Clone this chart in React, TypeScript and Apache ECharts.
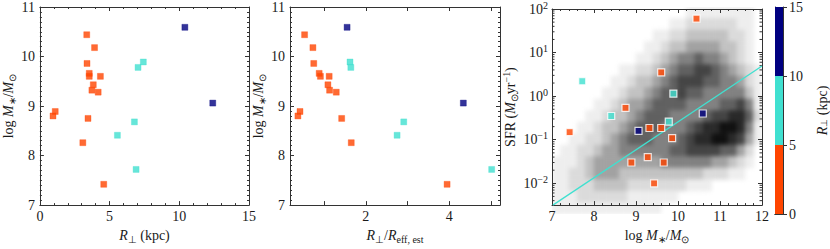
import React, { useEffect, useRef } from 'react';
import * as echarts from 'echarts';

// ---------- data ----------
const rPerpKpc = [3.36, 3.92, 3.38, 3.54, 3.54, 4.34, 3.83, 3.73, 4.18, 1.1, 0.94, 3.45, 3.08, 4.58, 7.42, 7.04, 6.78, 5.56, 6.9, 10.4, 12.4];
const rPerpOverReff = [0.53, 0.73, 0.75, 0.88, 0.91, 1.12, 1.09, 1.13, 1.29, 0.42, 0.37, 1.42, 1.65, 3.95, 1.62, 1.64, 2.91, 2.75, 5.02, 1.55, 4.34];
const logMstar = [10.44, 10.18, 9.86, 9.66, 9.6, 9.6, 9.43, 9.32, 9.28, 8.89, 8.8, 8.75, 8.26, 7.42, 9.89, 9.78, 8.68, 8.41, 7.72, 10.59, 9.06];
const sfr: (number | null)[] = [60, null, 0.109, 0.03, 3.5, 0.186, 0.01, 0.186, 0.04, 0.03, null, 0.54, null, 0.15, 1.14, 0.26, null, 0.35, 2.2, 0.4, 0.16];

const rBinEdges = [0, 5, 10, 15];
const rBinColors = ['#FF4500', '#40E0D0', '#000080'];

const fitLogM = [7.02, 12.0];
const fitSFR = [0.00316, 4.9];

// background density of the comparison sample (0 = empty .. 9 = densest)
const densityLogM = [7.1, 7.3, 7.5, 7.7, 7.9, 8.1, 8.3, 8.5, 8.7, 8.9, 9.1, 9.3, 9.5, 9.7, 9.9, 10.1, 10.3, 10.5, 10.7, 10.9, 11.1, 11.3, 11.5, 11.7, 11.9];
const densityLogSFR = [1.875, 1.625, 1.375, 1.125, 0.875, 0.625, 0.375, 0.125, -0.125, -0.375, -0.625, -0.875, -1.125, -1.375, -1.625, -1.875, -2.125, -2.375];
const densityRows = [
  '0000000000000000111111110',
  '0000000000000011222222110',
  '0000000000001122333332210',
  '0000000000011233444433210',
  '0000000000112345565543210',
  '0000000011223456677654321',
  '0000000112334567776655421',
  '0000001123345667665555531',
  '0000011234456666555566751',
  '0000112334566655556778862',
  '0001123345666555678899851',
  '0011223456665556788998741',
  '0112234455555566777766420',
  '1112344444444555555443210',
  '1122344433333333332221100',
  '1122233332222222111000000',
  '1112222221111110000000000',
  '1111111111111000000000000',
];

// ---------- styling ----------
const F = 'Liberation Serif';
const TXT = '#1a1a1a';
const rich: any = {
  n: { fontFamily: F, fontSize: 14, color: TXT },
  i: { fontFamily: F, fontSize: 14, color: TXT, fontStyle: 'italic' },
  s: { fontFamily: F, fontSize: 10, color: TXT, padding: [8, 0, 0, 0] },
  p: { fontFamily: F, fontSize: 10, color: TXT, padding: [0, 0, 8, 0] },
};
const richCb: any = {
  n: { fontFamily: F, fontSize: 14, color: TXT },
  i: { fontFamily: F, fontSize: 14, color: TXT, fontStyle: 'italic' },
  s: { fontFamily: F, fontSize: 9, color: TXT, padding: [3, 0, 0, 0] },
};
const massName = '{n|log }{i|M}{s|∗}{n|/}{i|M}{s|⊙}';
const rName = '{i|R}{s|⊥}{n| (kpc)}';
const rRelName = '{i|R}{s|⊥}{n|/}{i|R}{s|eff, est}';
const sfrName = '{n|SFR (}{i|M}{s|⊙}{n|yr}{p|−1}{n|)}';

const axLine = { color: '#333', width: 1 };
const mk = (o: any) => ({
  type: 'value',
  splitLine: { show: false },
  axisLine: { show: true, onZero: false, lineStyle: axLine },
  axisTick: { show: true, inside: true, length: 4, lineStyle: axLine },
  ...o,
});
const lbl = (o: any = {}) => ({ fontFamily: F, fontSize: 14, color: TXT, ...o });
const noLbl = { show: false };
const minor = (n: number) => ({ show: true, splitNumber: n, length: 2, lineStyle: axLine });

const colorOf = (r: number) => {
  for (let k = 0; k < rBinColors.length; k++) if (r < rBinEdges[k + 1]) return rBinColors[k];
  return rBinColors[rBinColors.length - 1];
};
const halo = (c: string) => c + '66';

const isInt = (v: number) => Math.abs(v - Math.round(v)) < 1e-6;

export default function App() {
  const mainRef = useRef<HTMLDivElement>(null);
  const bgRef = useRef<HTMLDivElement>(null);

  useEffect(() => {
    document.body.style.margin = '0';
    const bg = echarts.init(bgRef.current!, null, { renderer: 'svg' });
    const main = echarts.init(mainRef.current!, null, { renderer: 'svg' });

    const nR = densityRows.length;
    const cells: number[][] = [];
    densityRows.forEach((row, r) => {
      for (let c = 0; c < row.length; c++) {
        const v = Number(row[c]);
        if (v > 0) cells.push([c, nR - 1 - r, v]);
      }
    });
    bg.setOption({
      animation: false,
      grid: { left: 0, top: 0, right: 0, bottom: 0 },
      xAxis: { type: 'category', data: densityLogM.map(String), show: false },
      yAxis: { type: 'category', data: [...densityLogSFR].reverse().map(String), show: false },
      visualMap: {
        show: false, min: 1, max: 9, dimension: 2,
        inRange: { color: ['#eeeeee', '#cfcfcf', '#9c9c9c', '#666666', '#383838', '#101010'] },
      },
      series: [{ type: 'heatmap', data: cells, itemStyle: { borderWidth: 0 } }],
    });

    const idx = logMstar.map((_, k) => k);
    const p1 = idx.map((k) => ({
      value: [rPerpKpc[k], logMstar[k]],
      itemStyle: { color: colorOf(rPerpKpc[k]), borderColor: halo(colorOf(rPerpKpc[k])), borderWidth: 1 },
    }));
    const p2 = idx.map((k) => ({
      value: [rPerpOverReff[k], logMstar[k]],
      itemStyle: { color: colorOf(rPerpKpc[k]), borderColor: halo(colorOf(rPerpKpc[k])), borderWidth: 1 },
    }));
    const p3 = idx
      .filter((k) => sfr[k] != null)
      .map((k) => ({
        value: [logMstar[k], Math.log10(sfr[k] as number)],
        itemStyle: { color: colorOf(rPerpKpc[k]), borderColor: '#ffffff', borderWidth: 1.2 },
      }));

    const sfrMinor: number[][] = [];
    for (let e = -3; e <= 1; e++)
      for (let m = 2; m <= 9; m++) {
        const lv = e + Math.log10(m);
        if (lv > -2.5 && lv < 2) sfrMinor.push([7, lv]);
      }

    const yLog10Label = (v: number) => {
      if (!isInt(v)) return '';
      const e = Math.round(v);
      return `{n|10}{p|${e < 0 ? '−' + Math.abs(e) : e}}`;
    };

    main.setOption({
      animation: false,
      grid: [
        { left: 35, top: 7, width: 214, height: 207 },
        { left: 290, top: 7, width: 210, height: 207 },
        { left: 552, top: 7, width: 210, height: 207 },
        { left: 775, top: 7, width: 16, height: 207 },
      ],
      xAxis: [
        mk({ gridIndex: 0, position: 'bottom', min: 0, max: 15, interval: 5, minorTick: minor(5), axisLabel: lbl({ margin: 4 }),
          name: rName, nameLocation: 'middle', nameGap: 17, nameTextStyle: { rich } }),
        mk({ gridIndex: 0, position: 'top', min: 0, max: 15, interval: 5, minorTick: minor(5), axisLabel: noLbl }),
        mk({ gridIndex: 1, position: 'bottom', min: 0.18, max: 5.22, splitNumber: 5,
          axisLabel: lbl({ margin: 4, formatter: (v: number) => (Math.abs(v - 2) < 1e-6 || Math.abs(v - 4) < 1e-6 ? String(Math.round(v)) : '') }),
          name: rRelName, nameLocation: 'middle', nameGap: 17, nameTextStyle: { rich } }),
        mk({ gridIndex: 1, position: 'top', min: 0.18, max: 5.22, splitNumber: 5, axisLabel: noLbl }),
        mk({ gridIndex: 2, position: 'bottom', min: 7, max: 12, interval: 1, minorTick: minor(5), axisLabel: lbl({ margin: 4 }),
          name: massName, nameLocation: 'middle', nameGap: 17, nameTextStyle: { rich } }),
        mk({ gridIndex: 2, position: 'top', min: 7, max: 12, interval: 1, minorTick: minor(5), axisLabel: noLbl }),
        { gridIndex: 3, type: 'category', data: ['c'], position: 'bottom', axisLine: { show: true, lineStyle: axLine }, axisTick: { show: false }, axisLabel: noLbl },
        { gridIndex: 3, type: 'category', data: ['c'], position: 'top', axisLine: { show: true, lineStyle: axLine }, axisTick: { show: false }, axisLabel: noLbl },
      ],
      yAxis: [
        mk({ gridIndex: 0, position: 'left', min: 7, max: 11, interval: 1, minorTick: minor(10), axisLabel: lbl({ margin: 5 }),
          name: massName, nameLocation: 'middle', nameGap: 20, nameTextStyle: { rich } }),
        mk({ gridIndex: 0, position: 'right', min: 7, max: 11, interval: 1, minorTick: minor(10), axisLabel: noLbl }),
        mk({ gridIndex: 1, position: 'left', min: 7, max: 11, interval: 1, minorTick: minor(10), axisLabel: lbl({ margin: 5 }),
          name: massName, nameLocation: 'middle', nameGap: 20, nameTextStyle: { rich } }),
        mk({ gridIndex: 1, position: 'right', min: 7, max: 11, interval: 1, minorTick: minor(10), axisLabel: noLbl }),
        mk({ gridIndex: 2, position: 'left', min: -2.5, max: 2, splitNumber: 5,
          axisLabel: lbl({ margin: 4, formatter: yLog10Label, rich }),
          name: sfrName, nameLocation: 'middle', nameGap: 31, nameTextStyle: { rich } }),
        mk({ gridIndex: 2, position: 'right', min: -2.5, max: 2, splitNumber: 5, axisLabel: noLbl }),
        mk({ gridIndex: 3, position: 'right', min: 0, max: 15, interval: 5,
          axisTick: { show: true, inside: false, length: 4, lineStyle: axLine },
          axisLabel: lbl({ margin: 6 }),
          name: rName, nameLocation: 'middle', nameGap: 32, nameRotate: 90, nameTextStyle: { rich: richCb } }),
        mk({ gridIndex: 3, position: 'left', min: 0, max: 15, interval: 5, axisTick: { show: false }, axisLabel: noLbl }),
      ],
      series: [
        { type: 'scatter', xAxisIndex: 0, yAxisIndex: 0, symbol: 'rect', symbolSize: 6, data: p1, silent: true },
        { type: 'scatter', xAxisIndex: 2, yAxisIndex: 2, symbol: 'rect', symbolSize: 6, data: p2, silent: true },
        {
          type: 'custom', xAxisIndex: 4, yAxisIndex: 4, data: sfrMinor, silent: true, clip: false,
          renderItem: (params: any, api: any) => {
            const y = api.coord([api.value(0), api.value(1)])[1];
            const cs = params.coordSys;
            const st = { stroke: '#333', lineWidth: 1 };
            return {
              type: 'group',
              children: [
                { type: 'line', shape: { x1: cs.x, y1: y, x2: cs.x + 2.5, y2: y }, style: st },
                { type: 'line', shape: { x1: cs.x + cs.width, y1: y, x2: cs.x + cs.width - 2.5, y2: y }, style: st },
              ],
            };
          },
        },
        {
          type: 'line', xAxisIndex: 4, yAxisIndex: 4, symbol: 'none', silent: true,
          data: fitLogM.map((m, k) => [m, Math.log10(fitSFR[k])]),
          lineStyle: { color: '#40E0D0', width: 1.3 },
        },
        { type: 'scatter', xAxisIndex: 4, yAxisIndex: 4, symbol: 'rect', symbolSize: 7, data: p3, silent: true, z: 5 },
        ...rBinColors.map((c, k) => ({
          type: 'bar', xAxisIndex: 6, yAxisIndex: 6, stack: 'cb', barWidth: '100%', silent: true,
          data: [rBinEdges[k + 1] - rBinEdges[k]], itemStyle: { color: c },
        })),
      ],
    });

    return () => {
      bg.dispose();
      main.dispose();
    };
  }, []);

  return (
    <div style={{ position: 'relative', width: 830, height: 249, background: '#fff' }}>
      <div style={{ position: 'absolute', left: 552, top: 7, width: 210, height: 207, overflow: 'hidden' }}>
        <div ref={bgRef} style={{ width: 210, height: 207, filter: 'blur(2px)' }} />
      </div>
      <div ref={mainRef} style={{ position: 'absolute', left: 0, top: 0, width: 830, height: 249 }} />
    </div>
  );
}
